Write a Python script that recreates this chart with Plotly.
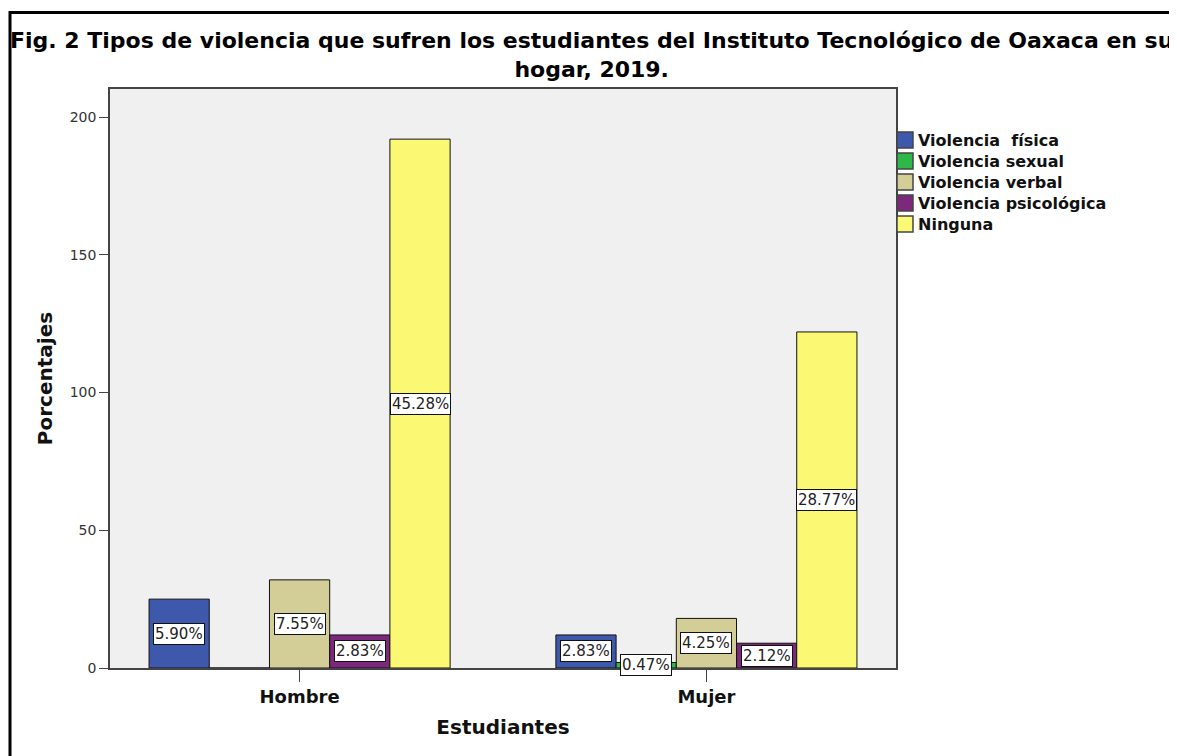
import plotly.graph_objects as go

# data (counts, N = 424)
grupos = ["Hombre", "Mujer"]
series = ["Violencia  física", "Violencia sexual", "Violencia verbal",
          "Violencia psicológica", "Ninguna"]
fisica = [25, 12]
sexual = [0, 2]
verbal = [32, 18]
psicologica = [12, 9]
ninguna = [192, 122]
etiquetas = [
    ["5.90%", "2.83%"],
    ["", "0.47%"],
    ["7.55%", "4.25%"],
    ["2.83%", "2.12%"],
    ["45.28%", "28.77%"],
]
colores = ["#3E58AC", "#2EB848", "#D3CE97", "#7C287D", "#FBF873"]

valores = [fisica, sexual, verbal, psicologica, ninguna]
bargap = 0.26
slot = (1 - bargap) / len(series)
FONT = "DejaVu Sans"

# plot area in page pixels (the page body adds an 8px offset)
OFF = 8
PL, PR, PT, PB = 110, 896, 89, 668


def px(x):
    return (x - PL) / (PR - PL)


def py(y):
    return (PB - y) / (PB - PT)


fig = go.Figure()
for i, (nombre, vals) in enumerate(zip(series, valores)):
    fig.add_trace(go.Bar(
        x=grupos, y=vals, name=nombre, showlegend=False,
        marker=dict(color=colores[i], line=dict(color="#111111", width=1)),
    ))
    # white boxed labels in the middle of each bar
    for g, (v, lab) in enumerate(zip(vals, etiquetas[i])):
        if not lab:
            continue
        fig.add_annotation(
            x=g + (i - (len(series) - 1) / 2) * slot, y=v / 2,
            xref="x", yref="y", text=lab, showarrow=False,
            font=dict(family=FONT, size=15, color="#222222"),
            bgcolor="white", bordercolor="#111111", borderwidth=1, borderpad=1,
        )

# legend drawn by hand to get the tight SPSS spacing
for i, nombre in enumerate(series):
    yc = 140 + i * 21
    fig.add_shape(type="rect", xref="paper", yref="paper",
                  x0=px(897), x1=px(913), y0=py(yc + 8), y1=py(yc - 8),
                  line=dict(color="#444444", width=1.5), fillcolor=colores[i])
    fig.add_annotation(text="<b>%s</b>" % nombre, xref="paper", yref="paper",
                       x=px(916), y=py(yc), xanchor="left", yanchor="middle",
                       showarrow=False,
                       font=dict(family=FONT, size=16, color="#111111"))

# two-line title, one text block
fig.add_annotation(
    text="<b>Fig. 2 Tipos de violencia que sufren los estudiantes del Instituto Tecnológico de Oaxaca en su"
         "<br>hogar, 2019.</b>",
    xref="paper", yref="paper", x=px(591), y=py(55), showarrow=False,
    xanchor="center", yanchor="middle", align="center",
    font=dict(family=FONT, size=22, color="black"),
)

# outer frame of the exported image
fig.add_shape(type="rect", xref="paper", yref="paper",
              x0=px(10), x1=px(1300), y0=py(900), y1=py(12.5),
              line=dict(color="black", width=3), fillcolor="rgba(0,0,0,0)")

fig.update_layout(
    width=1177, height=756,
    margin=dict(l=PL - OFF, r=1177 - PR + OFF, t=PT - OFF, b=756 - PB + OFF),
    paper_bgcolor="white", plot_bgcolor="#F0F0F0",
    barmode="group", bargap=bargap, bargroupgap=0,
    font=dict(family=FONT, color="#222222"),
)
fig.update_xaxes(
    range=[-0.466, 1.466], showline=True, linecolor="#444444", linewidth=1.5,
    mirror=True, ticks="outside", ticklen=12, tickcolor="#444444",
    tickfont=dict(family=FONT, size=18, color="#111111", weight="bold"),
    title=dict(text="<b>Estudiantes</b>", font=dict(family=FONT, size=20, color="#111111"),
               standoff=14),
    showgrid=False, zeroline=False,
)
fig.update_yaxes(
    range=[0, 210.2], tickvals=[0, 50, 100, 150, 200], showline=True,
    linecolor="#444444", linewidth=1.5, mirror=True, ticks="outside", ticklen=9,
    tickcolor="#444444", tickfont=dict(family=FONT, size=14, color="#333333"),
    title=dict(text="<b>Porcentajes</b>", font=dict(family=FONT, size=20, color="#111111"),
               standoff=12),
    showgrid=False, zeroline=False,
)

fig.write_html("out.html")
